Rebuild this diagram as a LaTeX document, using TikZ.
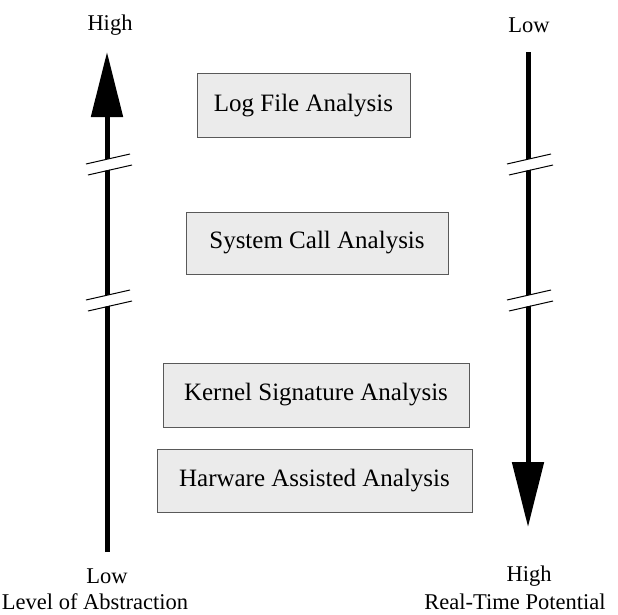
\documentclass[tikz,border=0pt]{standalone}
\usepackage{fontspec}
\setmainfont{Liberation Serif}
\usetikzlibrary{arrows.meta}
\begin{document}
\begin{tikzpicture}[x=1pt,y=-1pt,
  box/.style={draw=black!65,line width=1pt,fill=black!8,inner sep=0pt,font=\fontsize{25}{28}\selectfont},
  lbl/.style={inner sep=0pt,font=\fontsize{22.5}{26}\selectfont},
  axis/.style={line width=5pt,-{Triangle[length=65pt,width=31pt]}},
  brk/.style={line width=1pt}]
\useasboundingbox (0,0) rectangle (618,614);
% boxes
\node[box,minimum width=213pt,minimum height=64pt] (log) at (303.5,105.3) {Log File Analysis};
\node[box,minimum width=262pt,minimum height=62pt] (sys) at (317,243) {System Call Analysis};
\node[box,minimum width=306pt,minimum height=64pt] (ker) at (316,395) {Kernel Signature Analysis};
\node[box,minimum width=315pt,minimum height=63pt] (hw) at (314.5,480.5) {Harware Assisted Analysis};
% axes
\coordinate (lb) at (107,552);
\coordinate (lt) at (107,52);
\coordinate (rt) at (528,52);
\coordinate (rb) at (528,527);
\draw[axis] (lb) -- (lt);
\draw[axis] (rt) -- (rb);
% breaks
\foreach \x/\y in {107/164, 107/300, 528/164, 528/300}{
  \fill[white] (\x-21,\y) -- (\x+23,\y-10) -- (\x+23,\y+1) -- (\x-21,\y+11) -- cycle;
  \draw[brk] (\x-21,\y) -- (\x+23,\y-10);
  \draw[brk] (\x-19,\y+11) -- (\x+25,\y+1);
}
% labels
\node[lbl] (hl) at (110,25) {High};
\node[lbl] (lr) at (529,25) {Low};
\node[lbl] (ll) at (107,576) {Low};
\node[lbl] (hr) at (529,576) {High};
\node[lbl,anchor=base] (loa) at (95,609) {Level of Abstraction};
\node[lbl,anchor=base] (rtp) at (515,609) {Real-Time Potential};
\end{tikzpicture}
\end{document}
